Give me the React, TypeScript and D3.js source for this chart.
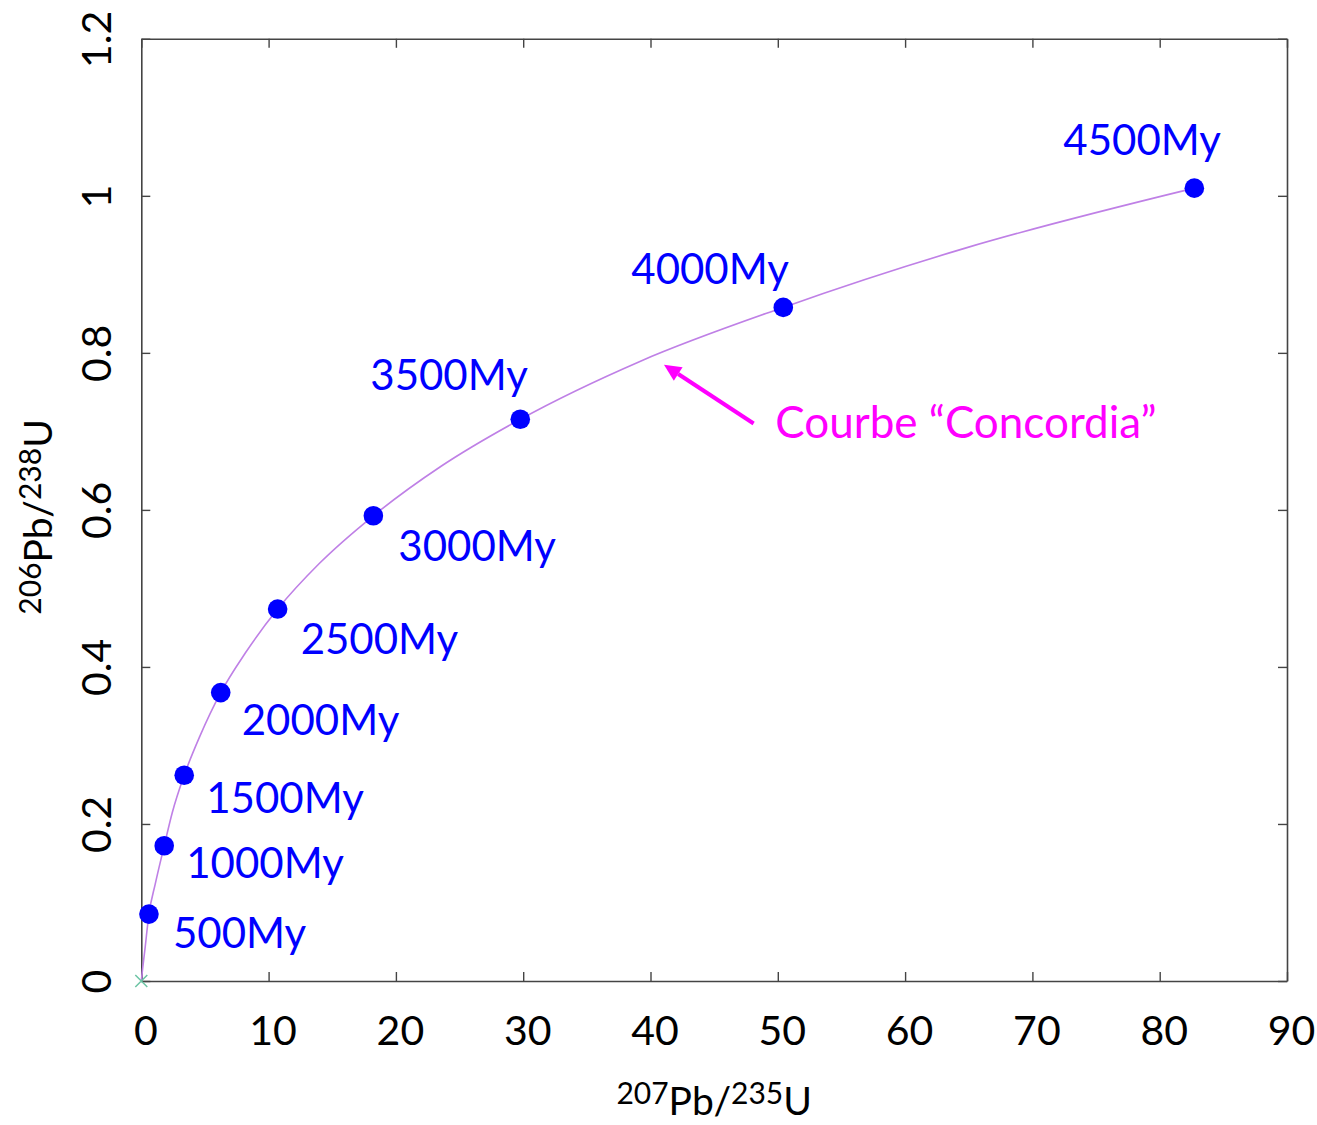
import React, { useEffect, useRef } from 'react'
import * as d3 from 'd3'

// ages of the marked points and their coordinates
const ages = [500, 1000, 1500, 2000, 2500, 3000, 3500, 4000, 4500]
const pb207u235 = [0.6, 1.8, 3.37, 6.24, 10.71, 18.23, 29.77, 50.43, 82.72]
const pb206u238 = [0.0852, 0.1722, 0.2621, 0.3673, 0.4737, 0.5925, 0.7154, 0.8579, 1.0098]

// samples along the concordia line (x = 207Pb/235U, y = 206Pb/238U)
const curveX = [0, 0.1035, 0.279, 0.6, 1.093, 1.8, 2.425, 3.37, 4.604, 6.24, 8.17, 10.71, 14.0, 18.23, 23.55, 29.77, 39.17, 50.43, 64.73, 82.72]
const curveY = [0, 0.0156, 0.0395, 0.0852, 0.1234, 0.1722, 0.214, 0.2621, 0.3119, 0.3673, 0.4177, 0.4737, 0.532, 0.5925, 0.6556, 0.7154, 0.7891, 0.8579, 0.9334, 1.0098]

// second series: single cross at the origin
const crossX = [0]
const crossY = [0]

const xTicks = [0, 10, 20, 30, 40, 50, 60, 70, 80, 90]
const yTicks = [0, 0.2, 0.4, 0.6, 0.8, 1, 1.2]

// annotation "Courbe Concordia": arrow tail -> head, text anchor (data units)
const arrowFrom = [48.1, 0.71]
const arrowTo = [41.06, 0.785]
const annotationAt = [49.8, 0.692]
const annotationText = 'Courbe \u201cConcordia\u201d'

// pixel offsets of the age labels relative to their points
const labelOffsets = [[24, 34], [22, 32], [22, 38], [21, 42], [23, 45], [25, 45], [-150, -29], [-152, -23], [-131, -33]]

const FONT = 'Lato, "Open Sans", "DejaVu Sans", sans-serif'

function App() {
  const svgRef = useRef(null)

  useEffect(() => {
    const w = 1317
    const h = 1125
    const left = 141.3, right = 1287, top = 38.8, bottom = 981
    const svg = d3.select(svgRef.current)
    svg.selectAll('*').remove()
    svg.attr('width', w).attr('height', h)

    const x = d3.scaleLinear().domain([0, 90]).range([left, right])
    const y = d3.scaleLinear().domain([0, 1.2]).range([bottom, top])

    const axisColor = '#444'
    const styleAxis = (g) => {
      g.select('.domain').attr('stroke', axisColor).attr('stroke-width', 1.6)
      g.selectAll('.tick line').attr('stroke', axisColor).attr('stroke-width', 1.4)
    }

    // bottom axis
    const gx = svg.append('g')
      .attr('transform', `translate(0,${bottom})`)
      .call(d3.axisBottom(x).tickValues(xTicks).tickSize(-9).tickSizeOuter(0).tickPadding(35).tickFormat(d3.format('d')))
    styleAxis(gx)
    gx.selectAll('.tick text')
      .attr('font-family', FONT).attr('font-size', 41).attr('fill', '#000')
      .attr('dx', 4)

    // top axis (mirror)
    const gt = svg.append('g')
      .attr('transform', `translate(0,${top})`)
      .call(d3.axisTop(x).tickValues(xTicks).tickSize(-9).tickSizeOuter(0).tickFormat(() => ''))
    styleAxis(gt)

    // left axis
    const gy = svg.append('g')
      .attr('transform', `translate(${left},0)`)
      .call(d3.axisLeft(y).tickValues(yTicks).tickSize(-9).tickSizeOuter(0).tickFormat(d => String(+d.toFixed(1))))
    styleAxis(gy)
    gy.selectAll('.tick text')
      .attr('font-family', FONT).attr('font-size', 41).attr('fill', '#000')
      .attr('text-anchor', 'middle')
      .attr('x', 0).attr('y', -30).attr('dy', 0)
      .attr('transform', 'rotate(-90)')

    // right axis (mirror)
    const gr = svg.append('g')
      .attr('transform', `translate(${right},0)`)
      .call(d3.axisRight(y).tickValues(yTicks).tickSize(-9).tickSizeOuter(0).tickFormat(() => ''))
    styleAxis(gr)

    // concordia line
    const pts = curveX.map((v, i) => [v, curveY[i]])
    const line = d3.line().x(d => x(d[0])).y(d => y(d[1])).curve(d3.curveMonotoneX)
    svg.append('path')
      .datum(pts)
      .attr('d', line)
      .attr('fill', 'none')
      .attr('stroke', '#bf80e6')
      .attr('stroke-width', 1.6)

    // cross marker
    const cs = 6
    crossX.forEach((cx, i) => {
      const px = x(cx), py = y(crossY[i])
      svg.append('path')
        .attr('d', `M${px - cs},${py - cs}L${px + cs},${py + cs}M${px - cs},${py + cs}L${px + cs},${py - cs}`)
        .attr('stroke', '#6cc4a4').attr('stroke-width', 1.5).attr('fill', 'none')
    })

    // age points
    const points = ages.map((a, i) => ({ age: a, x: pb207u235[i], y: pb206u238[i], off: labelOffsets[i] }))
    svg.selectAll('.pt')
      .data(points)
      .join('circle')
      .attr('class', 'pt')
      .attr('cx', d => x(d.x))
      .attr('cy', d => y(d.y))
      .attr('r', 9.8)
      .attr('fill', '#0000ff')

    svg.selectAll('.lbl')
      .data(points)
      .join('text')
      .attr('class', 'lbl')
      .attr('x', d => x(d.x) + d.off[0])
      .attr('y', d => y(d.y) + d.off[1])
      .attr('font-family', FONT)
      .attr('font-size', 42)
      .attr('fill', '#0000ff')
      .text(d => `${d.age}My`)

    // annotation arrow
    const x1 = x(arrowFrom[0]), y1 = y(arrowFrom[1])
    const x2 = x(arrowTo[0]), y2 = y(arrowTo[1])
    const ang = Math.atan2(y2 - y1, x2 - x1)
    const headLen = 17, headW = 8
    const bx = x2 - headLen * Math.cos(ang), by = y2 - headLen * Math.sin(ang)
    svg.append('line')
      .attr('x1', x1).attr('y1', y1).attr('x2', bx).attr('y2', by)
      .attr('stroke', '#ff00ff').attr('stroke-width', 4)
    svg.append('polygon')
      .attr('points', [
        [x2, y2],
        [bx + headW * Math.sin(ang), by - headW * Math.cos(ang)],
        [bx - headW * Math.sin(ang), by + headW * Math.cos(ang)],
      ].map(p => p.join(',')).join(' '))
      .attr('fill', '#ff00ff')
    svg.append('text')
      .attr('x', x(annotationAt[0]))
      .attr('y', y(annotationAt[1]))
      .attr('font-family', FONT)
      .attr('font-size', 44)
      .attr('fill', '#ff00ff')
      .text(annotationText)

    // axis titles
    const xt = svg.append('text')
      .attr('x', (left + right) / 2)
      .attr('y', 1115)
      .attr('text-anchor', 'middle')
      .attr('font-family', FONT)
      .attr('font-size', 39)
      .attr('fill', '#000')
    xt.append('tspan').attr('font-size', 30).attr('dy', -11).text('207')
    xt.append('tspan').attr('dy', 11).text('Pb/')
    xt.append('tspan').attr('font-size', 30).attr('dy', -11).text('235')
    xt.append('tspan').attr('dy', 11).text('U')

    const yt = svg.append('text')
      .attr('transform', `translate(52,${(top + bottom) / 2 + 7}) rotate(-90)`)
      .attr('text-anchor', 'middle')
      .attr('font-family', FONT)
      .attr('font-size', 39)
      .attr('fill', '#000')
    yt.append('tspan').attr('font-size', 30).attr('dy', -11).text('206')
    yt.append('tspan').attr('dy', 11).text('Pb/')
    yt.append('tspan').attr('font-size', 30).attr('dy', -11).text('238')
    yt.append('tspan').attr('dy', 11).text('U')
  }, [])

  return (
    <svg ref={svgRef} style={{ position: 'absolute', left: 0, top: 0, background: '#fff' }}></svg>
  )
}

export default App
